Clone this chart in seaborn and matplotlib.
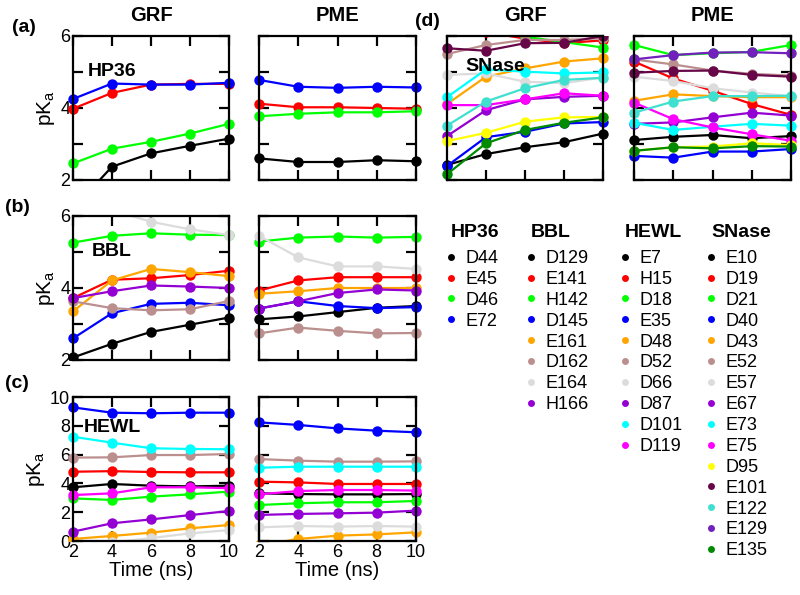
import matplotlib
matplotlib.use("Agg")
import matplotlib.pyplot as plt
import pandas as pd
import seaborn as sns
from matplotlib.lines import Line2D
from matplotlib.patches import Rectangle

TIME = [2, 4, 6, 8, 10]

# xmgrace-like colour map
GRACE = {
    "black": "#000000", "red": "#ff0000", "green": "#00ff00", "blue": "#0000ff",
    "orange": "#ffa500", "brown": "#bc8f8f", "grey": "#dcdcdc", "violet": "#9400d3",
    "cyan": "#00ffff", "magenta": "#ff00ff", "yellow": "#ffff00", "maroon": "#670748",
    "turquoise": "#40e0d0", "indigo": "#7221bc", "green4": "#008b00",
}

HP36_RES = ["D44", "E45", "D46", "E72"]
HP36_COL = ["black", "red", "green", "blue"]
HP36_GRF = [
    [1.2, 2.37, 2.74, 2.95, 3.15],
    [3.98, 4.42, 4.65, 4.67, 4.67],
    [2.46, 2.87, 3.06, 3.29, 3.56],
    [4.25, 4.68, 4.65, 4.65, 4.70],
]
HP36_PME = [
    [2.60, 2.50, 2.50, 2.55, 2.52],
    [4.12, 4.02, 4.02, 4.00, 3.98],
    [3.77, 3.84, 3.88, 3.88, 3.91],
    [4.78, 4.59, 4.56, 4.59, 4.57],
]

BBL_RES = ["D129", "E141", "H142", "D145", "E161", "D162", "E164", "H166"]
BBL_COL = ["black", "red", "green", "blue", "orange", "brown", "grey", "violet"]
BBL_GRF = [
    [2.07, 2.45, 2.78, 2.98, 3.18],
    [3.72, 4.23, 4.27, 4.36, 4.48],
    [5.26, 5.45, 5.52, 5.48, 5.47],
    [2.60, 3.30, 3.56, 3.59, 3.52],
    [3.35, 4.21, 4.53, 4.44, 4.33],
    [3.63, 3.44, 3.38, 3.41, 3.64],
    [6.40, 6.16, 5.84, 5.63, 5.47],
    [3.72, 3.91, 4.07, 4.04, 4.00],
]
BBL_PME = [
    [3.13, 3.21, 3.33, 3.45, 3.50],
    [3.93, 4.21, 4.30, 4.30, 4.30],
    [5.29, 5.40, 5.43, 5.40, 5.42],
    [3.43, 3.63, 3.50, 3.44, 3.47],
    [3.84, 3.91, 4.00, 4.00, 4.00],
    [2.74, 2.90, 2.81, 2.74, 2.75],
    [5.45, 4.85, 4.60, 4.60, 4.53],
    [3.43, 3.63, 3.86, 3.96, 3.93],
]

HEWL_RES = ["E7", "H15", "D18", "E35", "D48", "D52", "D66", "D87", "D101", "D119"]
HEWL_COL = ["black", "red", "green", "blue", "orange", "brown", "grey", "violet",
            "cyan", "magenta"]
HEWL_GRF = [
    [3.73, 3.96, 3.84, 3.79, 3.84],
    [4.81, 4.85, 4.79, 4.77, 4.77],
    [2.96, 2.85, 3.08, 3.24, 3.43],
    [9.28, 8.91, 8.87, 8.91, 8.91],
    [0.14, 0.35, 0.58, 0.88, 1.11],
    [5.79, 5.81, 5.97, 5.97, 6.04],
    [-0.4, -0.1, 0.2, 0.53, 0.76],
    [0.65, 1.23, 1.50, 1.80, 2.08],
    [7.24, 6.83, 6.44, 6.39, 6.37],
    [3.19, 3.31, 3.73, 3.73, 3.67],
]
HEWL_PME = [
    [3.31, 3.26, 3.24, 3.24, 3.26],
    [4.12, 4.07, 3.96, 3.96, 3.96],
    [2.50, 2.62, 2.69, 2.69, 2.78],
    [8.24, 8.06, 7.82, 7.66, 7.55],
    [-0.3, 0.14, 0.37, 0.46, 0.60],
    [5.69, 5.58, 5.51, 5.51, 5.53],
    [0.95, 1.04, 1.00, 1.04, 1.00],
    [1.81, 1.88, 1.92, 1.97, 2.11],
    [5.09, 5.16, 5.16, 5.16, 5.16],
    [3.24, 3.47, 3.54, 3.54, 3.50],
]

SNASE_RES = ["E10", "D19", "D21", "D40", "D43", "E52", "E57", "E67", "E73", "E75",
             "D95", "E101", "E122", "E129", "E135"]
SNASE_COL = ["black", "red", "green", "blue", "orange", "brown", "grey", "violet",
             "cyan", "magenta", "yellow", "maroon", "turquoise", "indigo", "green4"]
SNASE_GRF = [
    [2.42, 2.72, 2.91, 3.05, 3.29],
    [6.30, 6.10, 5.93, 5.80, 5.88],
    [6.40, 6.20, 5.98, 5.83, 5.68],
    [2.39, 3.19, 3.34, 3.57, 3.61],
    [4.11, 4.87, 5.10, 5.29, 5.38],
    [5.50, 5.75, 5.89, 5.89, 5.94],
    [4.92, 4.96, 4.73, 4.69, 4.85],
    [3.22, 3.94, 4.24, 4.31, 4.34],
    [4.30, 5.07, 5.01, 4.96, 4.99],
    [4.08, 4.08, 4.24, 4.41, 4.34],
    [3.08, 3.31, 3.62, 3.74, 3.75],
    [5.66, 5.59, 5.80, 5.81, 6.00],
    [3.51, 4.18, 4.55, 4.78, 4.84],
    [6.40, 6.50, 6.50, 6.60, 6.60],
    [2.16, 3.02, 3.39, 3.59, 3.74],
]
SNASE_PME = [
    [3.11, 3.20, 3.25, 3.16, 3.22],
    [5.29, 4.82, 4.48, 4.11, 3.81],
    [5.75, 5.47, 5.52, 5.56, 5.75],
    [2.67, 2.62, 2.79, 2.79, 2.86],
    [4.20, 4.38, 4.33, 4.30, 4.30],
    [5.35, 5.21, 5.04, 4.95, 4.90],
    [4.87, 4.75, 4.55, 4.43, 4.33],
    [3.56, 3.60, 3.74, 3.87, 3.79],
    [3.59, 3.39, 3.48, 3.56, 3.51],
    [4.15, 3.69, 3.46, 3.27, 3.09],
    [2.81, 2.91, 2.93, 3.02, 2.97],
    [4.98, 5.03, 5.04, 4.92, 4.87],
    [3.87, 4.18, 4.33, 4.33, 4.34],
    [5.35, 5.47, 5.54, 5.55, 5.52],
    [2.81, 2.91, 2.88, 2.94, 2.93],
]

sns.set_theme(style="ticks")
plt.rcParams["font.family"] = ["Liberation Sans", "DejaVu Sans"]
plt.rcParams["mathtext.default"] = "regular"
plt.rcParams["axes.linewidth"] = 1.6
for key in ["text.color", "axes.labelcolor", "xtick.color", "ytick.color", "axes.edgecolor"]:
    plt.rcParams[key] = "black"


def long_df(res, values):
    rows = []
    for r, vals in zip(res, values):
        for t, v in zip(TIME, vals):
            rows.append(dict(res=r, time=t, pka=v))
    return pd.DataFrame(rows)


def panel(ax, res, colors, values, ylim, yticks, minor, ylab, xlab):
    df = long_df(res, values)
    pal = [GRACE[c] for c in colors]
    sns.lineplot(data=df, x="time", y="pka", hue="res", hue_order=res, palette=pal,
                 marker="o", markersize=7.5, markeredgewidth=0, linewidth=1.6,
                 estimator=None, sort=False, legend=False, ax=ax)
    # let the end markers stick out sideways, but clip vertically
    clip = Rectangle((-0.05, 0), 1.1, 1, transform=ax.transAxes)
    for ln in ax.lines:
        ln.set_clip_path(clip)
    ax.set_xlim(2, 10)
    ax.set_ylim(*ylim)
    ax.set_xticks(TIME)
    ax.set_yticks(yticks)
    ax.set_yticks(minor, minor=True)
    ax.tick_params(which="both", direction="in", length=7.5, width=1.6, top=True,
                   right=True, labelsize=13, pad=2)
    ax.set_xlabel("Time (ns)" if xlab else "", fontsize=14.5, labelpad=0)
    ax.set_ylabel("pK$_a$" if ylab else "", fontsize=15, labelpad=2)
    if not xlab:
        ax.set_xticklabels([])
    if not ylab:
        ax.set_yticklabels([])


fig = plt.figure(figsize=(8, 5.95), dpi=100)
H = 144 / 595
W = 156 / 800
rows_b = [1 - 180 / 595, 1 - 360 / 595, 1 - 541 / 595]
cols_l = [73 / 800, 259 / 800, 447 / 800, 634 / 800]

grid = [
    (0, 0, HP36_RES, HP36_COL, HP36_GRF, (2, 6), [2, 4, 6], [3, 5], True, False, "HP36", 0.096, 0.72),
    (0, 1, HP36_RES, HP36_COL, HP36_PME, (2, 6), [2, 4, 6], [3, 5], False, False, None, 0, 0),
    (1, 0, BBL_RES, BBL_COL, BBL_GRF, (2, 6), [2, 4, 6], [3, 5], True, False, "BBL", 0.12, 0.724),
    (1, 1, BBL_RES, BBL_COL, BBL_PME, (2, 6), [2, 4, 6], [3, 5], False, False, None, 0, 0),
    (2, 0, HEWL_RES, HEWL_COL, HEWL_GRF, (0, 10), [0, 2, 4, 6, 8, 10], [], True, True, "HEWL", 0.066, 0.759),
    (2, 1, HEWL_RES, HEWL_COL, HEWL_PME, (0, 10), [0, 2, 4, 6, 8, 10], [], False, True, None, 0, 0),
    (0, 2, SNASE_RES, SNASE_COL, SNASE_GRF, (2, 6), [2, 4, 6], [3, 5], False, False, "SNase", 0.115, 0.759),
    (0, 3, SNASE_RES, SNASE_COL, SNASE_PME, (2, 6), [2, 4, 6], [3, 5], False, False, None, 0, 0),
]

for r, c, res, col, vals, ylim, yt, mn, ylab, xlab, name, tx, ty in grid:
    ax = fig.add_axes([cols_l[c], rows_b[r], W if c % 2 == 0 else 157 / 800, H])
    panel(ax, res, col, vals, ylim, yt, mn, ylab, xlab)
    if r == 0:
        ax.set_title("GRF" if c % 2 == 0 else "PME", fontsize=14.5, fontweight="bold", pad=11)
    if name:
        ax.text(tx, ty, name, transform=ax.transAxes, fontsize=14, fontweight="bold",
                va="baseline", zorder=5)

for lab, x, y in [("(a)", 12, 32), ("(b)", 5, 212), ("(c)", 5, 388), ("(d)", 415, 26)]:
    fig.text(x / 800, 1 - y / 595, lab, fontsize=14, fontweight="bold", va="baseline")

# legends: bold header as text, entries as a plain figure legend below it
for name, res, col, x in [("HP36", HP36_RES, HP36_COL, 445), ("BBL", BBL_RES, BBL_COL, 525),
                          ("HEWL", HEWL_RES, HEWL_COL, 619), ("SNase", SNASE_RES, SNASE_COL, 705)]:
    fig.text((x + 6) / 800, 1 - 237 / 595, name, fontsize=14, fontweight="bold", va="baseline")
    handles = [Line2D([], [], ls="", marker="o", markersize=5, markeredgewidth=0,
                      color=GRACE[cc]) for cc in col]
    fig.legend(handles, res, loc="upper left", bbox_to_anchor=(x / 800, 1 - 250 / 595),
               frameon=False, fontsize=13, handlelength=0.7, handletextpad=0.45,
               labelspacing=0.215, borderpad=0, borderaxespad=0)

fig.savefig("out.png", dpi=100)
